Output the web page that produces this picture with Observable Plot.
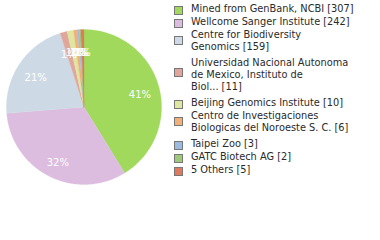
<!DOCTYPE html>
<html><head><meta charset="utf-8">
<script src="https://cdn.jsdelivr.net/npm/d3@7"></script>
<script src="https://cdn.jsdelivr.net/npm/@observablehq/plot@0.6"></script>
<style>
body{margin:0;background:#fff;}
#wrap{position:relative;width:380px;height:240px;overflow:hidden;font-family:"DejaVu Sans",sans-serif;}
#wrap svg{position:absolute;left:0;top:0;}
.lg{position:absolute;left:191px;font-size:9.8px;line-height:12px;color:#2a2a2a;white-space:pre;}
.sq{position:absolute;left:174px;width:7px;height:7px;border:1px solid #777;}
</style></head><body><div id="wrap"></div>
<script>
const names = ["Mined from GenBank, NCBI","Wellcome Sanger Institute","Centre for Biodiversity Genomics","Universidad Nacional Autonoma de Mexico, Instituto de Biol...","Beijing Genomics Institute","Centro de Investigaciones Biologicas del Noroeste S. C.","Taipei Zoo","GATC Biotech AG","5 Others"];
const legendLabels = ["Mined from GenBank, NCBI [307]","Wellcome Sanger Institute [242]","Centre for Biodiversity\nGenomics [159]","Universidad Nacional Autonoma\nde Mexico, Instituto de\nBiol... [11]","Beijing Genomics Institute [10]","Centro de Investigaciones\nBiologicas del Noroeste S. C. [6]","Taipei Zoo [3]","GATC Biotech AG [2]","5 Others [5]"];
const counts = [307,242,159,11,10,6,3,2,5];
const colors = ["#a1d95c","#dcbddf","#cddae5","#e0a69c","#dfe6a0","#f0b077","#9dbbe0","#9fc878","#e07a5c"];

const total = d3.sum(counts);
const data = names.map((n,i)=>({name:n,count:counts[i]}));
const arcs = d3.pie().sort(null).value(d=>d.count)(data);
const pts = [];
for (const a of arcs) {
  const n = Math.max(2, Math.ceil((a.endAngle-a.startAngle)/0.02));
  pts.push({name:a.data.name,x:0,y:0});
  for (let k=0;k<=n;k++){
    const t = a.startAngle + (a.endAngle-a.startAngle)*k/n;
    pts.push({name:a.data.name,x:Math.sin(t),y:Math.cos(t)});
  }
  pts.push({name:a.data.name,x:0,y:0});
}
const labels = arcs.map(a=>{
  const m=(a.startAngle+a.endAngle)/2;
  return {x:0.75*Math.sin(m),y:0.75*Math.cos(m),text:Math.round(a.data.count/total*100)+"%"};
});
const cx=83.5, cy=106.5, r=77.5;
const chart = Plot.plot({
  width:380,height:240,margin:0,
  x:{domain:[-1,1],range:[cx-r,cx+r],axis:null},
  y:{domain:[-1,1],range:[cy+r,cy-r],axis:null},
  color:{domain:names,range:colors},
  style:{background:"transparent"},
  marks:[
    Plot.line(pts,{x:"x",y:"y",z:"name",fill:"name",stroke:"name",strokeWidth:0.3}),
    Plot.text(labels,{x:"x",y:"y",dy:3.5,text:"text",fill:"white",fontSize:10,fontFamily:"DejaVu Sans"})
  ]
});
const wrap=document.getElementById("wrap");
wrap.appendChild(chart);
let y=9;
legendLabels.forEach((lab,i)=>{
  const lines=lab.split("\n").length;
  const d=document.createElement("div");
  d.className="lg"; d.style.top=(y-6)+"px"; d.textContent=lab;
  wrap.appendChild(d);
  const s=document.createElement("div");
  s.className="sq"; s.style.background=colors[i];
  const c=y+1.5+(lines-1)*4;
  s.style.top=(c-4.5)+"px";
  wrap.appendChild(s);
  y += (lines-1)*12 + (lines>1?16:13);
});
</script></body></html>
